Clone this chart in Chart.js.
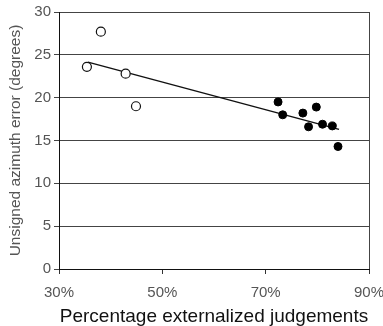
<!DOCTYPE html>
<html>
<head>
<meta charset="utf-8">
<script src="https://cdn.jsdelivr.net/npm/chart.js@4"></script>
<style>
  html, body { margin: 0; padding: 0; background: #fff; }
  #wrap { width: 383px; height: 326px; }
</style>
</head>
<body>
<div id="wrap"><canvas id="c" width="383" height="326"></canvas></div>
<script>
// Listeners with few externalized judgements (open markers)
const lowExtX = [35.4, 38.1, 42.9, 44.9];
const lowExtY = [23.6, 27.7, 22.8, 19.0];
// Listeners with many externalized judgements (filled markers)
const highExtX = [72.4, 73.3, 77.2, 78.3, 79.8, 81.0, 82.9, 84.0];
const highExtY = [19.5, 18.0, 18.2, 16.6, 18.9, 16.9, 16.7, 14.3];
// Linear trend line end points
const trendX = [35.6, 84.2];
const trendY = [24.15, 16.3];
// Axis ticks
const xTicks = [30, 50, 70, 90];
const yTicks = [0, 5, 10, 15, 20, 25, 30];

const pts = (xs, ys) => xs.map((x, i) => ({ x, y: ys[i] }));

// Right-hand frame line of the plot area
const frame = {
  id: 'frame',
  afterDraw(chart) {
    const { ctx, chartArea: a } = chart;
    ctx.save();
    ctx.strokeStyle = '#444';
    ctx.lineWidth = 1;
    ctx.beginPath();
    ctx.moveTo(Math.round(a.right) + 0.5, a.top);
    ctx.lineTo(Math.round(a.right) + 0.5, a.bottom);
    ctx.stroke();
    ctx.restore();
  }
};

new Chart(document.getElementById('c'), {
  type: 'scatter',
  data: {
    datasets: [
      {
        type: 'line',
        data: pts(trendX, trendY),
        borderColor: '#111',
        borderWidth: 1.5,
        pointRadius: 0,
        fill: false,
        order: 3
      },
      {
        data: pts(lowExtX, lowExtY),
        pointRadius: 4.5,
        pointBorderWidth: 1.2,
        pointBorderColor: '#111',
        pointBackgroundColor: '#fff',
        order: 1
      },
      {
        data: pts(highExtX, highExtY),
        pointRadius: 4,
        pointBorderWidth: 1,
        pointBorderColor: '#000',
        pointBackgroundColor: '#000',
        order: 2
      }
    ]
  },
  options: {
    responsive: false,
    animation: false,
    devicePixelRatio: 1,
    layout: { padding: { top: 12, right: 14, left: 0, bottom: 0 } },
    plugins: { legend: { display: false }, tooltip: { enabled: false } },
    scales: {
      x: {
        type: 'linear',
        min: 30, max: 90,
        afterBuildTicks(s) { s.ticks = xTicks.map(v => ({ value: v })); },
        afterFit(s) { s.height = 57; s.paddingLeft = 0; s.paddingRight = 0; },
        ticks: {
          callback: v => v + '%',
          color: '#555',
          font: { family: 'Liberation Sans, Arial', size: 15 },
          padding: 10,
          maxRotation: 0
        },
        grid: { drawOnChartArea: false, tickLength: 5, color: '#333' },
        border: { color: '#111', width: 1 },
        title: {
          display: true,
          text: 'Percentage externalized judgements',
          color: '#111',
          font: { family: 'Liberation Sans, Arial', size: 19, lineHeight: 1 },
          padding: { top: 0, bottom: 0 }
        }
      },
      y: {
        min: 0, max: 30,
        afterBuildTicks(s) { s.ticks = yTicks.map(v => ({ value: v })); },
        afterFit(s) { s.width = 59; s.paddingTop = 0; s.paddingBottom = 0; },
        ticks: {
          color: '#555',
          font: { family: 'Liberation Sans, Arial', size: 15 },
          padding: 3
        },
        grid: { color: '#444', tickLength: 5, lineWidth: 1 },
        border: { color: '#111', width: 1 },
        title: {
          display: true,
          text: 'Unsigned azimuth error (degrees)',
          color: '#555',
          font: { family: 'Liberation Sans, Arial', size: 15.5 },
          padding: { top: 6, bottom: 0 }
        }
      }
    }
  },
  plugins: [frame]
});
</script>
</body>
</html>
